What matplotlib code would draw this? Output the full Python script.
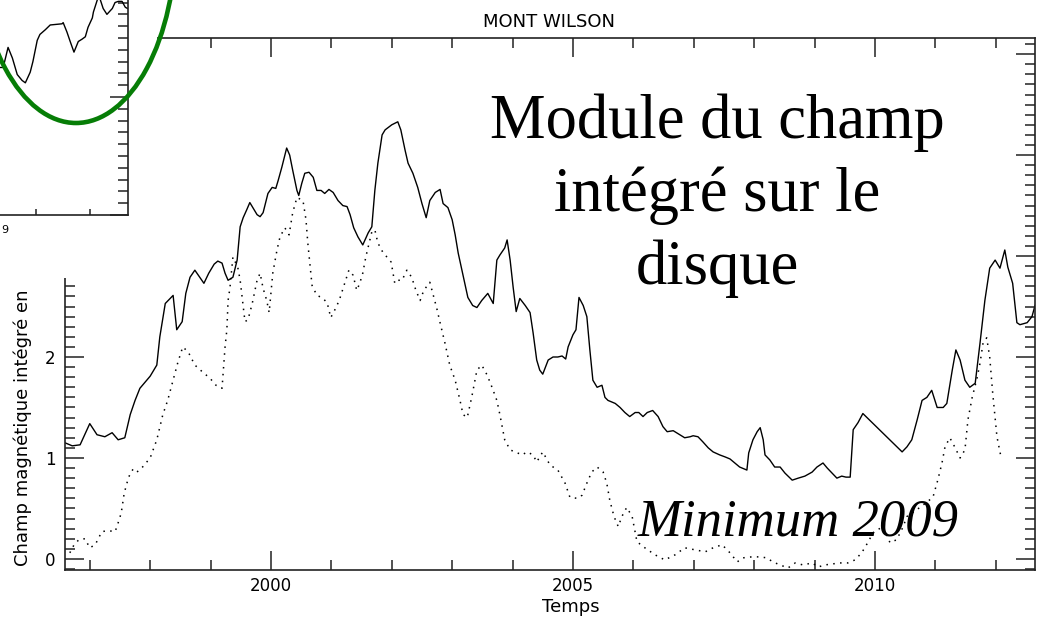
import matplotlib
matplotlib.use("Agg")
import matplotlib.pyplot as plt
from matplotlib.patches import Rectangle, Ellipse
from matplotlib.ticker import MultipleLocator, NullFormatter

# Mont Wilson disc-integrated magnetic field (solid) and signed field (dotted)
solid_year = [
    1996.59, 1996.71, 1996.84, 1996.94, 1997.00, 1997.12, 1997.25, 1997.37, 1997.47, 1997.58,
    1997.67, 1997.75, 1997.83, 1998.00, 1998.11, 1998.16, 1998.25, 1998.33, 1998.38, 1998.41,
    1998.44, 1998.53, 1998.59, 1998.66, 1998.74, 1998.82, 1998.89, 1998.97, 1999.06, 1999.12,
    1999.19, 1999.24, 1999.29, 1999.37, 1999.44, 1999.49, 1999.54, 1999.60, 1999.65, 1999.70,
    1999.77, 1999.82, 1999.87, 1999.95, 2000.02, 2000.08, 2000.12, 2000.18, 2000.26, 2000.31,
    2000.36, 2000.43, 2000.46, 2000.51, 2000.56, 2000.63, 2000.70, 2000.76, 2000.83, 2000.89,
    2000.96, 2001.03, 2001.11, 2001.19, 2001.26, 2001.31, 2001.37, 2001.44, 2001.52, 2001.61,
    2001.67, 2001.72, 2001.77, 2001.84, 2001.89, 2002.00, 2002.10, 2002.15, 2002.22, 2002.27,
    2002.35, 2002.43, 2002.50, 2002.57, 2002.63, 2002.72, 2002.80, 2002.85, 2002.93, 2003.00,
    2003.05, 2003.10, 2003.18, 2003.26, 2003.34, 2003.41, 2003.49, 2003.59, 2003.68, 2003.74,
    2003.79, 2003.87, 2003.91, 2003.96, 2004.01, 2004.06, 2004.12, 2004.21, 2004.29, 2004.34,
    2004.40, 2004.45, 2004.50, 2004.59, 2004.67, 2004.75, 2004.82, 2004.88, 2004.92, 2005.00,
    2005.05, 2005.10, 2005.17, 2005.23, 2005.28, 2005.33, 2005.40, 2005.48, 2005.53, 2005.58,
    2005.70, 2005.78, 2005.86, 2005.94, 2006.03, 2006.09, 2006.16, 2006.23, 2006.32, 2006.41,
    2006.49, 2006.56, 2006.66, 2006.74, 2006.85, 2006.94, 2006.99, 2007.07, 2007.15, 2007.24,
    2007.32, 2007.43, 2007.52, 2007.60, 2007.68, 2007.76, 2007.88, 2007.91, 2007.98, 2008.05,
    2008.10, 2008.15, 2008.18, 2008.26, 2008.34, 2008.43, 2008.51, 2008.63, 2008.73, 2008.84,
    2008.96, 2009.04, 2009.14, 2009.21, 2009.29, 2009.37, 2009.45, 2009.52, 2009.59, 2009.64,
    2009.72, 2009.80, 2010.45, 2010.53, 2010.61, 2010.70, 2010.78, 2010.86, 2010.94, 2011.03,
    2011.13, 2011.19, 2011.28, 2011.34, 2011.41, 2011.49, 2011.57, 2011.66, 2011.74, 2011.82,
    2011.90, 2011.99, 2012.07, 2012.15, 2012.20, 2012.28, 2012.35, 2012.40, 2012.52, 2012.60,
    2012.65,
]
solid_val = [
    1.15, 1.12, 1.13, 1.26, 1.34, 1.23, 1.21, 1.25, 1.18, 1.20,
    1.43, 1.57, 1.69, 1.81, 1.92, 2.20, 2.53, 2.58, 2.61, 2.44,
    2.27, 2.35, 2.63, 2.79, 2.86, 2.79, 2.73, 2.83, 2.92, 2.95,
    2.93, 2.83, 2.76, 2.79, 2.96, 3.29, 3.38, 3.46, 3.53, 3.48,
    3.41, 3.39, 3.43, 3.62, 3.68, 3.67, 3.75, 3.88, 4.07, 4.00,
    3.85, 3.65, 3.60, 3.72, 3.82, 3.83, 3.78, 3.65, 3.65, 3.62,
    3.66, 3.63, 3.55, 3.50, 3.49, 3.41, 3.28, 3.19, 3.11, 3.23,
    3.29, 3.65, 3.92, 4.20, 4.25, 4.30, 4.33, 4.25, 4.05, 3.92,
    3.82, 3.68, 3.52, 3.38, 3.55, 3.63, 3.66, 3.52, 3.48, 3.36,
    3.21, 3.03, 2.81, 2.59, 2.51, 2.49, 2.56, 2.63, 2.53, 2.96,
    3.01, 3.08, 3.16, 2.96, 2.69, 2.45, 2.58, 2.51, 2.44, 2.24,
    1.97, 1.87, 1.83, 1.97, 2.00, 2.00, 2.01, 1.98, 2.10, 2.22,
    2.27, 2.59, 2.51, 2.40, 2.07, 1.77, 1.70, 1.72, 1.60, 1.57,
    1.54, 1.50, 1.45, 1.41, 1.45, 1.45, 1.41, 1.45, 1.47, 1.41,
    1.31, 1.26, 1.27, 1.24, 1.20, 1.21, 1.22, 1.21, 1.16, 1.10,
    1.06, 1.03, 1.01, 0.99, 0.95, 0.91, 0.88, 1.05, 1.18, 1.26,
    1.30, 1.18, 1.03, 0.98, 0.91, 0.91, 0.85, 0.78, 0.80, 0.82,
    0.86, 0.91, 0.95, 0.90, 0.85, 0.80, 0.82, 0.81, 0.81, 1.28,
    1.35, 1.44, 1.06, 1.11, 1.18, 1.38, 1.57, 1.60, 1.67, 1.50,
    1.50, 1.54, 1.87, 2.07, 1.97, 1.77, 1.70, 1.74, 2.14, 2.56,
    2.88, 2.96, 2.88, 3.06, 2.89, 2.73, 2.34, 2.32, 2.34, 2.40,
    2.51,
]

dot_year = [
    1996.67, 1996.74, 1996.82, 1996.92, 1997.00, 1997.09, 1997.20, 1997.30, 1997.42, 1997.50,
    1997.53, 1997.57, 1997.62, 1997.67, 1997.72, 1997.78, 1997.86, 1998.00, 1998.11, 1998.21,
    1998.29, 1998.38, 1998.46, 1998.54, 1998.63, 1998.74, 1998.87, 1998.99, 1999.09, 1999.19,
    1999.24, 1999.27, 1999.29, 1999.32, 1999.37, 1999.45, 1999.49, 1999.54, 1999.57, 1999.62,
    1999.69, 1999.77, 1999.82, 1999.87, 1999.93, 1999.97, 2000.03, 2000.10, 2000.15, 2000.23,
    2000.30, 2000.36, 2000.43, 2000.53, 2000.58, 2000.61, 2000.68, 2000.76, 2000.84, 2000.93,
    2000.99, 2001.06, 2001.13, 2001.21, 2001.29, 2001.36, 2001.42, 2001.47, 2001.52, 2001.57,
    2001.61, 2001.67, 2001.72, 2001.77, 2001.85, 2001.92, 2001.99, 2002.05, 2002.10, 2002.17,
    2002.25, 2002.33, 2002.40, 2002.47, 2002.53, 2002.63, 2002.68, 2002.75, 2002.80, 2002.88,
    2002.96, 2003.05, 2003.13, 2003.18, 2003.25, 2003.33, 2003.41, 2003.49, 2003.58, 2003.66,
    2003.74, 2003.79, 2003.87, 2003.96, 2004.04, 2004.16, 2004.24, 2004.34, 2004.40, 2004.50,
    2004.62, 2004.75, 2004.87, 2004.95, 2005.07, 2005.15, 2005.23, 2005.31, 2005.40, 2005.50,
    2005.56, 2005.61, 2005.68, 2005.75, 2005.81, 2005.89, 2005.98, 2006.06, 2006.19, 2006.36,
    2006.52, 2006.69, 2006.85, 2007.02, 2007.19, 2007.32, 2007.47, 2007.60, 2007.72, 2007.81,
    2007.96, 2008.10, 2008.21, 2008.31, 2008.43, 2008.56, 2008.68, 2008.81, 2008.96, 2009.06,
    2009.17, 2009.30, 2009.42, 2009.55, 2009.67, 2009.78, 2009.88, 2009.97, 2010.13, 2010.25,
    2010.36, 2010.46, 2010.53, 2010.63, 2010.79, 2010.96, 2011.04, 2011.11, 2011.16, 2011.24,
    2011.32, 2011.41, 2011.49, 2011.54, 2011.61, 2011.69, 2011.74, 2011.79, 2011.85, 2011.90,
    2011.95, 2012.02, 2012.09,
]
dot_val = [
    0.06, 0.14, 0.19, 0.20, 0.11, 0.14, 0.27, 0.28, 0.27, 0.41,
    0.49, 0.65, 0.76, 0.85, 0.89, 0.86, 0.90, 1.00, 1.18, 1.43,
    1.57, 1.77, 1.95, 2.10, 2.05, 1.92, 1.85, 1.79, 1.72, 1.69,
    2.10, 2.27, 2.56, 2.68, 2.99, 2.89, 2.76, 2.50, 2.35, 2.37,
    2.53, 2.76, 2.83, 2.68, 2.56, 2.44, 2.83, 3.06, 3.19, 3.28,
    3.21, 3.43, 3.58, 3.55, 3.36, 3.13, 2.71, 2.61, 2.59, 2.54,
    2.39, 2.47, 2.56, 2.71, 2.86, 2.81, 2.66, 2.73, 2.83, 2.99,
    3.09, 3.24, 3.26, 3.13, 3.04, 2.99, 2.94, 2.73, 2.76, 2.76,
    2.86, 2.79, 2.66, 2.56, 2.66, 2.74, 2.63, 2.47, 2.34, 2.14,
    1.92, 1.77, 1.57, 1.43, 1.40, 1.62, 1.87, 1.92, 1.82, 1.70,
    1.57, 1.43, 1.18, 1.08, 1.06, 1.03, 1.06, 1.03, 0.96, 1.06,
    0.93, 0.88, 0.75, 0.61, 0.60, 0.63, 0.75, 0.86, 0.91, 0.86,
    0.75, 0.58, 0.42, 0.32, 0.42, 0.51, 0.42, 0.17, 0.11, 0.04,
    -0.01, 0.04, 0.11, 0.09, 0.07, 0.11, 0.14, 0.06, -0.03, 0.01,
    0.02, 0.02, 0.01, -0.03, -0.06, -0.09, -0.04, -0.06, -0.04, -0.08,
    -0.06, -0.05, -0.04, -0.04, -0.01, 0.06, 0.16, 0.26, 0.32, 0.16,
    0.19, 0.31, 0.42, 0.46, 0.53, 0.61, 0.78, 0.95, 1.11, 1.20,
    1.11, 1.00, 1.08, 1.38, 1.60, 1.79, 1.94, 2.14, 2.19, 2.00,
    1.64, 1.21, 1.00,
]

# small earlier plot pasted in the corner
inset_year = [
    1999.24, 1999.33, 1999.39, 1999.48, 1999.56, 1999.65, 1999.74, 1999.80, 1999.89, 1999.94,
    2000.02, 2000.07, 2000.17, 2000.26, 2000.48, 2000.50, 2000.57, 2000.63, 2000.70, 2000.78,
    2000.85, 2000.91, 2000.96, 2001.04, 2001.06, 2001.13, 2001.16, 2001.19, 2001.24, 2001.31,
    2001.41, 2001.46, 2001.52, 2001.59, 2001.65, 2001.69,
]
inset_val = [
    1.23, 1.25, 1.25, 1.42, 1.33, 1.19, 1.14, 1.12, 1.21, 1.30,
    1.48, 1.53, 1.57, 1.61, 1.62, 1.63, 1.55, 1.47, 1.38, 1.47,
    1.49, 1.51, 1.59, 1.67, 1.72, 1.82, 1.89, 1.82, 1.75, 1.70,
    1.75, 1.80, 1.81, 1.81, 1.76, 1.75,
]

W, H = 1037, 623
fig = plt.figure(figsize=(W / 100, H / 100), dpi=100)
fig.patch.set_facecolor("white")


def fx(px):
    return px / W


def fy(py):
    return 1 - py / H


# main IDL-style plot
ax = fig.add_axes([fx(65), fy(570), fx(1035) - fx(65), fy(38) - fy(570)])
ax.plot(solid_year, solid_val, color="black", lw=1.0)
ax.plot(dot_year, dot_val, color="black", lw=1.1, linestyle=(0, (1, 3.5)))
ax.set_xlim(1996.59, 2012.65)
ax.set_ylim(-0.11, 5.16)
ax.xaxis.set_major_locator(MultipleLocator(5))
ax.xaxis.set_minor_locator(MultipleLocator(1))
ax.yaxis.set_minor_locator(MultipleLocator(0.1))
ax.set_yticks([0, 1, 2, 3, 4, 5])
ax.set_yticklabels(["0", "1", "2", "", "", ""])
ax.tick_params(which="both", direction="in", top=True, right=True, width=1.1,
               labelsize=12, color="#222222")
ax.tick_params(which="major", length=14)
ax.tick_params(which="minor", length=7)
ax.tick_params(axis="x", pad=5)
ax.tick_params(axis="y", pad=7)
for s in ax.spines.values():
    s.set_linewidth(1.2)
    s.set_color("#222222")

fig.text(fx(549), fy(22), "MONT WILSON", ha="center", va="center", fontsize=13)
fig.text(fx(571), fy(607), "Temps", ha="center", va="center", fontsize=13)
fig.text(fx(23), fy(566), "Champ magnétique intégré en", rotation=90,
         ha="center", va="bottom", fontsize=13)

# white sheet over the top-left corner of the main plot
fig.add_artist(Rectangle((0, fy(278)), fx(157), 278 / H, transform=fig.transFigure,
                         facecolor="white", edgecolor="none", zorder=1))

# corner plot, mostly cut off by the page edge
ins = fig.add_axes([fx(-100), fy(215), fx(128) - fx(-100), 275 / H], zorder=2)
ins.set_facecolor("none")
ins.plot(inset_year, inset_val, color="black", lw=1.0)
ins.set_xlim(1997.48, 2001.70)
ins.set_ylim(0, 2.33)
ins.spines["left"].set_visible(False)
ins.spines["top"].set_visible(False)
for s in ("right", "bottom"):
    ins.spines[s].set_linewidth(1.2)
    ins.spines[s].set_color("#222222")
ins.yaxis.tick_right()
ins.yaxis.set_major_locator(MultipleLocator(1))
ins.yaxis.set_minor_locator(MultipleLocator(0.1))
ins.yaxis.set_major_formatter(NullFormatter())
ins.set_xticks([2000, 2001])
ins.set_xticklabels([])
ins.tick_params(axis="y", which="both", direction="in", width=1.1, color="#222222")
ins.tick_params(axis="y", which="major", length=13)
ins.tick_params(axis="y", which="minor", length=7)
ins.tick_params(axis="x", direction="in", length=4, width=1.1, color="#222222")
fig.text(fx(1), fy(230), "9", ha="left", va="center", fontsize=8, zorder=3)

fig.add_artist(Ellipse((fx(76), fy(-63)), 200 / W, 372 / H, transform=fig.transFigure,
                       facecolor="none", edgecolor="#067d06", lw=3.3, zorder=3))

# slide annotations
fig.text(fx(717), fy(196), "Module du champ\nintégré sur le\ndisque", ha="center",
         va="center", ma="center", fontsize=45, family="Liberation Serif",
         linespacing=1.33, zorder=4)
fig.text(fx(798), fy(522), "Minimum 2009", ha="center", va="center", fontsize=38,
         family="Liberation Serif", style="italic", zorder=4)

fig.savefig("out.png", dpi=100)
